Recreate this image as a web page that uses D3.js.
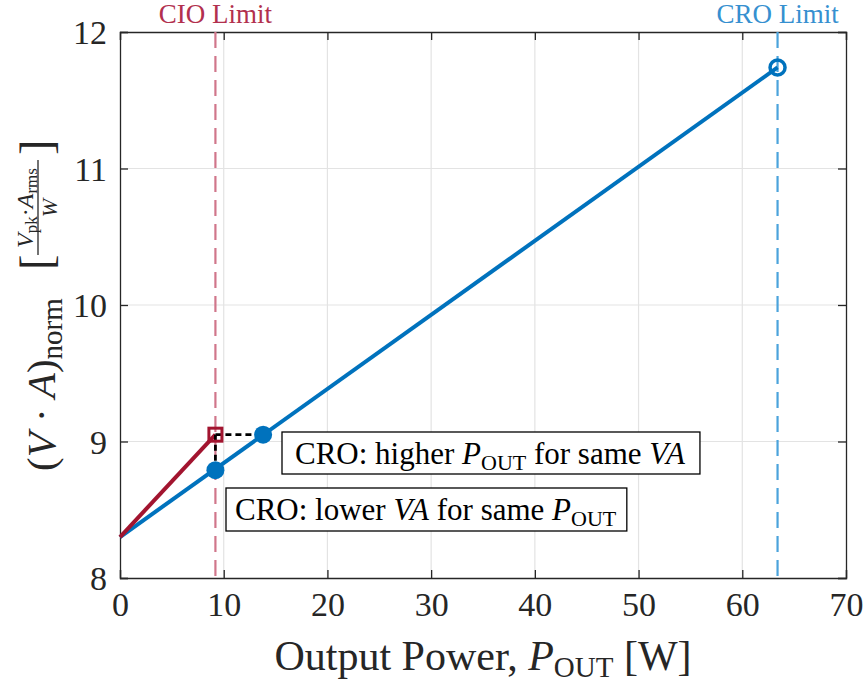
<!DOCTYPE html>
<html><head><meta charset="utf-8">
<script src="https://cdn.jsdelivr.net/npm/d3@7"></script>
</head><body style="margin:0">
<svg id="c" width="864" height="683" font-family="Liberation Serif" style="font-family:'Liberation Serif'"></svg>
<script>
const xTicks = [0, 10, 20, 30, 40, 50, 60, 70];
const yTicks = [8, 9, 10, 11, 12];
const croP = [0, 63.4];
const croVA = [8.3, 11.74];
const cioP = [0, 9.2];
const cioVA = [8.3, 9.05];
const cioLimit = 9.2;
const croLimit = 63.4;
const dotP = [9.2, 13.8];
const dotVA = [8.79, 9.05];

const m = {l: 120, r: 846, t: 32, b: 578};
const svg = d3.select("#c");
const x = d3.scaleLinear().domain([0, 70]).range([m.l, m.r]);
const y = d3.scaleLinear().domain([8, 12]).range([m.b, m.t]);
const FONT = "Liberation Serif";
const BLUE = "#0072BD", RED = "#A2142F", AX = "#262626";

function T(sel, size) {
  return sel.attr("font-family", FONT).style("font-family", `"${FONT}"`).attr("font-size", size);
}

// grid
svg.append("g").selectAll("line").data(xTicks.slice(1, -1)).join("line")
  .attr("x1", d => x(d)).attr("x2", d => x(d)).attr("y1", m.t).attr("y2", m.b)
  .attr("stroke", "#e3e3e3").attr("stroke-width", 1.2);
svg.append("g").selectAll("line").data(yTicks.slice(1, -1)).join("line")
  .attr("x1", m.l).attr("x2", m.r).attr("y1", d => y(d)).attr("y2", d => y(d))
  .attr("stroke", "#e3e3e3").attr("stroke-width", 1.2);

// axes
const ax = svg.append("g").attr("transform", `translate(0,${m.b})`)
  .call(d3.axisBottom(x).tickValues(xTicks).tickSize(-8).tickPadding(14).tickFormat(d3.format("d")));
const axT = svg.append("g").attr("transform", `translate(0,${m.t})`)
  .call(d3.axisTop(x).tickValues(xTicks).tickSize(-8).tickFormat(""));
const ay = svg.append("g").attr("transform", `translate(${m.l},0)`)
  .call(d3.axisLeft(y).tickValues(yTicks).tickSize(-8).tickPadding(13).tickFormat(d3.format("d")));
const ayR = svg.append("g").attr("transform", `translate(${m.r},0)`)
  .call(d3.axisRight(y).tickValues(yTicks).tickSize(-8).tickFormat(""));
[ax, axT, ay, ayR].forEach(g => {
  T(g, 34);
  g.selectAll("path.domain").attr("stroke", AX).attr("stroke-width", 1.3);
  g.selectAll(".tick line").attr("stroke", AX).attr("stroke-width", 1.3);
  T(g.selectAll("text"), 34).attr("fill", AX);
});
ax.selectAll("text").attr("dy", "0.72em");
ay.selectAll("text").attr("dy", "0.34em");

// limit lines
svg.append("line").attr("x1", x(cioLimit)).attr("x2", x(cioLimit)).attr("y1", m.t).attr("y2", m.b)
  .attr("stroke", "#d0768b").attr("stroke-width", 2.2).attr("stroke-dasharray", "16,8");
svg.append("line").attr("x1", x(croLimit)).attr("x2", x(croLimit)).attr("y1", m.t).attr("y2", m.b)
  .attr("stroke", "#4ba3dc").attr("stroke-width", 2.2).attr("stroke-dasharray", "16,8");
T(svg.append("text"), 27).attr("x", x(cioLimit)).attr("y", 23).attr("text-anchor", "middle")
  .attr("fill", "#b2304e").text("CIO Limit");
T(svg.append("text"), 27).attr("x", x(croLimit)).attr("y", 23).attr("text-anchor", "middle")
  .attr("fill", "#3690d0").text("CRO Limit");

const line = d3.line().x(d => x(d[0])).y(d => y(d[1]));
svg.append("path").datum(d3.zip(croP, croVA)).attr("d", line)
  .attr("fill", "none").attr("stroke", BLUE).attr("stroke-width", 4);
svg.append("path").datum(d3.zip(cioP, cioVA)).attr("d", line)
  .attr("fill", "none").attr("stroke", RED).attr("stroke-width", 4);

// dashed helpers
svg.append("line").attr("x1", x(cioP[1])).attr("x2", x(dotP[1])).attr("y1", y(cioVA[1])).attr("y2", y(cioVA[1]))
  .attr("stroke", "#000").attr("stroke-width", 2.8).attr("stroke-dasharray", "6,4");
svg.append("line").attr("x1", x(cioP[1])).attr("x2", x(cioP[1])).attr("y1", y(cioVA[1])).attr("y2", y(dotVA[0]))
  .attr("stroke", "#000").attr("stroke-width", 2.8).attr("stroke-dasharray", "6,4");

// markers
svg.append("circle").attr("cx", x(croP[1])).attr("cy", y(croVA[1])).attr("r", 7.5)
  .attr("fill", "none").attr("stroke", BLUE).attr("stroke-width", 3.5);
svg.append("rect").attr("x", x(cioP[1]) - 6.5).attr("y", y(cioVA[1]) - 6.5).attr("width", 13).attr("height", 13)
  .attr("fill", "none").attr("stroke", RED).attr("stroke-width", 3);
svg.selectAll("circle.dot").data(d3.zip(dotP, dotVA)).join("circle").attr("class", "dot")
  .attr("cx", d => x(d[0])).attr("cy", d => y(d[1])).attr("r", 9).attr("fill", BLUE);

// annotations
function annot(tx, ty, parts, padL, padR, top, bot) {
  const g = svg.append("g");
  const t = T(g.append("text"), 31).attr("x", tx).attr("y", ty).attr("fill", "#000");
  parts.forEach(p => {
    const s = t.append("tspan").text(p.t);
    if (p.i) s.attr("font-style", "italic");
    if (p.sub) s.attr("font-size", 22).attr("dy", 6);
    if (p.up) s.attr("dy", -6);
  });
  const bb = t.node().getBBox();
  g.insert("rect", "text").attr("x", bb.x - padL).attr("y", top).attr("width", bb.width + padL + padR)
    .attr("height", bot - top).attr("fill", "#fff").attr("stroke", "#000").attr("stroke-width", 1.3);
}
annot(295, 464, [{t: "CRO: higher "}, {t: "P", i: 1}, {t: "OUT", sub: 1}, {t: " for same ", up: 1}, {t: "VA", i: 1}], 13, 14, 432, 474);
annot(235, 520, [{t: "CRO: lower "}, {t: "VA", i: 1}, {t: " for same "}, {t: "P", i: 1}, {t: "OUT", sub: 1}], 9, 10, 488, 531);

// x label
const xl = T(svg.append("text"), 42).attr("x", (m.l + m.r) / 2).attr("y", 670).attr("text-anchor", "middle").attr("fill", AX);
xl.append("tspan").text("Output Power, ");
xl.append("tspan").attr("font-style", "italic").text("P");
xl.append("tspan").attr("font-size", 29).attr("dy", 7).text("OUT");
xl.append("tspan").attr("dy", -7).text(" [W]");

// y label (rotated)
const yg = svg.append("g").attr("transform", `translate(55,${(m.t + m.b) / 2}) rotate(-90)`).attr("fill", AX);
const yl = T(yg.append("text"), 41).attr("x", -166).attr("y", 0);
yl.append("tspan").text("(");
yl.append("tspan").attr("font-style", "italic").text("V");
yl.append("tspan").text(" · ");
yl.append("tspan").attr("font-style", "italic").text("A");
yl.append("tspan").text(")");
yl.append("tspan").attr("font-size", 29).attr("dy", 7).text("norm");
T(yg.append("text"), 46).attr("x", 35).attr("y", -3).text("[");
T(yg.append("text"), 46).attr("x", 150).attr("y", -3).text("]");
const num = T(yg.append("text"), 24).attr("x", 97).attr("y", -22).attr("text-anchor", "middle");
num.append("tspan").attr("font-style", "italic").text("V");
num.append("tspan").attr("font-size", 17).attr("dy", 4).text("pk");
num.append("tspan").attr("dy", -4).text("·");
num.append("tspan").attr("font-style", "italic").text("A");
num.append("tspan").attr("font-size", 17).attr("dy", 4).text("rms");
yg.append("line").attr("x1", 50).attr("x2", 145).attr("y1", -17).attr("y2", -17).attr("stroke", AX).attr("stroke-width", 1.3);
T(yg.append("text"), 22).attr("x", 97).attr("y", 2).attr("text-anchor", "middle").attr("font-style", "italic").text("W");
</script>
</body></html>
